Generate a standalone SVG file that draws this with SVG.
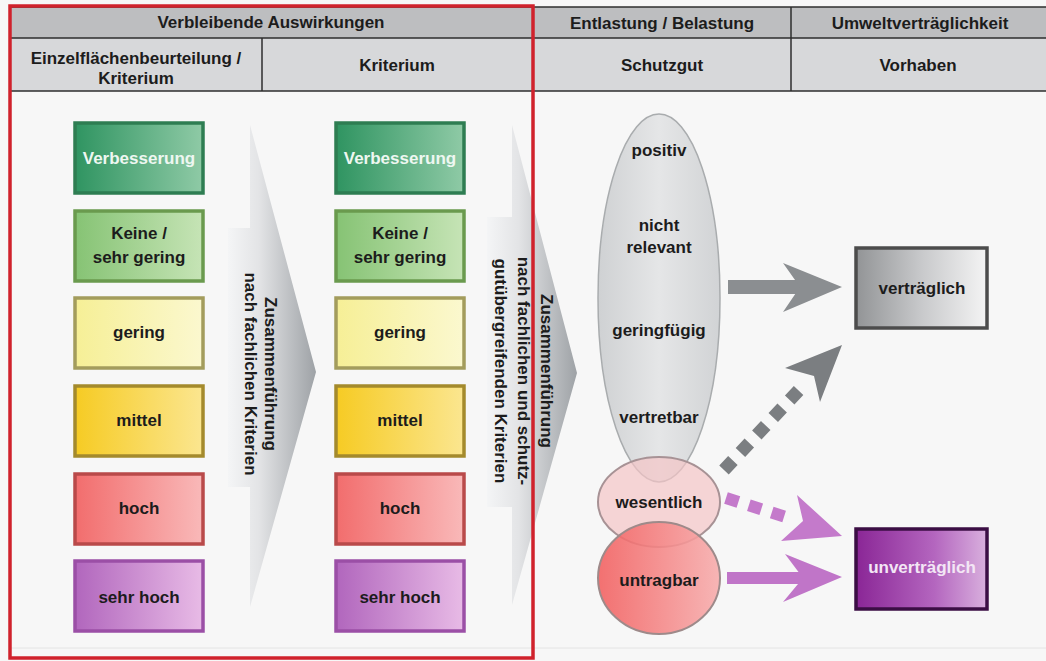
<svg xmlns="http://www.w3.org/2000/svg" width="1046" height="661" viewBox="0 0 1046 661">
<defs>
<style>
text{font-family:"Liberation Sans",Arial,sans-serif;font-weight:bold;font-size:17px;fill:#1c1c1c;text-anchor:middle}
.hl{stroke:#2e2e2e;stroke-width:1.5}
.box{stroke-width:3.5}
.w{fill:#eef7f1}
</style>
<linearGradient id="gV" x1="0" x2="1"><stop offset="0" stop-color="#2f9461"/><stop offset="1" stop-color="#8fcaa6"/></linearGradient>
<linearGradient id="gK" x1="0" x2="1"><stop offset="0" stop-color="#86c374"/><stop offset="1" stop-color="#c6e4b6"/></linearGradient>
<linearGradient id="gG" x1="0" x2="1"><stop offset="0" stop-color="#f6ef96"/><stop offset="1" stop-color="#fbf8cf"/></linearGradient>
<linearGradient id="gM" x1="0" x2="1"><stop offset="0" stop-color="#f6cb23"/><stop offset="1" stop-color="#fbe690"/></linearGradient>
<linearGradient id="gH" x1="0" x2="1"><stop offset="0" stop-color="#f26d6d"/><stop offset="1" stop-color="#f9b9b9"/></linearGradient>
<linearGradient id="gS" x1="0" x2="1"><stop offset="0" stop-color="#b166bd"/><stop offset="1" stop-color="#e8bbe6"/></linearGradient>
<linearGradient id="gA" x1="0" x2="1"><stop offset="0" stop-color="#f4f5f6"/><stop offset="0.35" stop-color="#e3e4e6"/><stop offset="1" stop-color="#9ea2a6"/></linearGradient>
<linearGradient id="gE" x1="0" x2="1"><stop offset="0" stop-color="#cfd1d3"/><stop offset="0.5" stop-color="#e5e6e7"/><stop offset="1" stop-color="#d1d3d5"/></linearGradient>
<linearGradient id="gU" x1="0" x2="1"><stop offset="0" stop-color="#f25e5e"/><stop offset="1" stop-color="#f7acac"/></linearGradient>
<linearGradient id="gVt" x1="0" x2="1"><stop offset="0" stop-color="#929496"/><stop offset="0.5" stop-color="#c8c9cb"/><stop offset="1" stop-color="#f4f4f4"/></linearGradient>
<linearGradient id="gUv" x1="0" x2="1"><stop offset="0" stop-color="#8a2696"/><stop offset="0.6" stop-color="#b466bf"/><stop offset="1" stop-color="#d9b0de"/></linearGradient>
</defs>
<rect width="1046" height="661" fill="#f7f7f7"/>
<g id="header">
<rect x="10" y="7" width="1036" height="31" fill="#bdbec0"/>
<rect x="10" y="38" width="1036" height="53" fill="#d7d8da"/>
<line class="hl" x1="10" y1="7" x2="1046" y2="7"/>
<line class="hl" x1="10" y1="38" x2="1046" y2="38"/>
<line class="hl" x1="10" y1="91" x2="1046" y2="91"/>
<line class="hl" x1="262" y1="38" x2="262" y2="91"/>
<line class="hl" x1="791" y1="7" x2="791" y2="91"/>
<text x="271" y="28">Verbleibende Auswirkungen</text>
<text x="662" y="29">Entlastung / Belastung</text>
<text x="920" y="29">Umweltverträglichkeit</text>
<text x="136" y="64">Einzelflächenbeurteilung /</text>
<text x="136" y="84">Kriterium</text>
<text x="397" y="71">Kriterium</text>
<text x="662" y="71">Schutzgut</text>
<text x="918" y="71">Vorhaben</text>
</g>
<line x1="10" y1="648" x2="1046" y2="648" stroke="#e4e4e4" stroke-width="1"/>
<g id="arrow-fachlich">
<polygon points="250,125 316,372 250,607 250,487 228,487 228,228 250,228" fill="url(#gA)"/>
<text transform="translate(265,374) rotate(90)">Zusammenführung</text>
<text transform="translate(245,374) rotate(90)">nach fachlichen Kriterien</text>
</g>
<g id="arrow-schutzgut">
<polygon points="512,125 577,373 512,605 512,507 487,507 487,217 512,217" fill="url(#gA)"/>
<text transform="translate(541,371) rotate(90)">Zusammenführung</text>
<text transform="translate(518,371) rotate(90)">nach fachlichen und schutz-</text>
<text transform="translate(495,371) rotate(90)">gutübergreifenden Kriterien</text>
</g>
<g id="col1">
<g id="c1-verbesserung"><rect class="box" x="75" y="123" width="128" height="70" fill="url(#gV)" stroke="#2e7d52"/><text class="w" x="139" y="164">Verbesserung</text></g>
<g id="c1-keine"><rect class="box" x="75" y="211" width="128" height="70" fill="url(#gK)" stroke="#6a9a4e"/><text x="139" y="239">Keine /</text><text x="139" y="263">sehr gering</text></g>
<g id="c1-gering"><rect class="box" x="75" y="298" width="128" height="70" fill="url(#gG)" stroke="#a39c5c"/><text x="139" y="338">gering</text></g>
<g id="c1-mittel"><rect class="box" x="75" y="386" width="128" height="70" fill="url(#gM)" stroke="#a48a2c"/><text x="139" y="426">mittel</text></g>
<g id="c1-hoch"><rect class="box" x="75" y="474" width="128" height="70" fill="url(#gH)" stroke="#b94a4a"/><text x="139" y="514">hoch</text></g>
<g id="c1-sehrhoch"><rect class="box" x="75" y="561" width="128" height="70" fill="url(#gS)" stroke="#9b4fa6"/><text x="139" y="603">sehr hoch</text></g>
</g>
<g id="col2">
<g id="c2-verbesserung"><rect class="box" x="336" y="123" width="128" height="70" fill="url(#gV)" stroke="#2e7d52"/><text class="w" x="400" y="164">Verbesserung</text></g>
<g id="c2-keine"><rect class="box" x="336" y="211" width="128" height="70" fill="url(#gK)" stroke="#6a9a4e"/><text x="400" y="239">Keine /</text><text x="400" y="263">sehr gering</text></g>
<g id="c2-gering"><rect class="box" x="336" y="298" width="128" height="70" fill="url(#gG)" stroke="#a39c5c"/><text x="400" y="338">gering</text></g>
<g id="c2-mittel"><rect class="box" x="336" y="386" width="128" height="70" fill="url(#gM)" stroke="#a48a2c"/><text x="400" y="426">mittel</text></g>
<g id="c2-hoch"><rect class="box" x="336" y="474" width="128" height="70" fill="url(#gH)" stroke="#b94a4a"/><text x="400" y="514">hoch</text></g>
<g id="c2-sehrhoch"><rect class="box" x="336" y="561" width="128" height="70" fill="url(#gS)" stroke="#9b4fa6"/><text x="400" y="603">sehr hoch</text></g>
</g>
<rect id="frame" x="10" y="6" width="523" height="652" fill="none" stroke="#d0222c" stroke-width="3.5"/>
<g id="schutzgut">
<g id="e-vertraeglich"><ellipse cx="659" cy="298" rx="61" ry="184" fill="url(#gE)" stroke="#a9acae" stroke-width="1.5"/>
<text x="659" y="156">positiv</text><text x="659" y="231">nicht</text><text x="659" y="253">relevant</text><text x="659" y="336">geringfügig</text><text x="659" y="423">vertretbar</text></g>
<g id="e-wesentlich"><ellipse cx="659" cy="502" rx="61" ry="45" fill="#f4c4c6" fill-opacity="0.7" stroke="#a79295" stroke-width="2"/><text x="659" y="508">wesentlich</text></g>
<g id="e-untragbar"><ellipse cx="659" cy="578" rx="61" ry="56" fill="url(#gU)" fill-opacity="0.88" stroke="#9e8a8a" stroke-width="2"/><text x="659" y="586">untragbar</text></g>
</g>
<g id="vorhaben">
<g id="n-vertraeglich"><rect x="856" y="248" width="131" height="80" fill="url(#gVt)" stroke="#4c4c4c" stroke-width="3.5"/><text x="922" y="294">verträglich</text></g>
<g id="n-unvertraeglich"><rect x="856" y="529" width="131" height="80" fill="url(#gUv)" stroke="#3b0e44" stroke-width="3.5"/><text x="922" y="573" style="fill:#f3e6f5">unverträglich</text></g>
</g>
<g id="connectors">
<rect x="728" y="280" width="74" height="14" fill="#8b8e91"/>
<polygon points="783,263 842,287 783,312 800,287" fill="#8b8e91"/>
<line x1="724" y1="470" x2="800" y2="389" stroke="#7b7e81" stroke-width="13" stroke-dasharray="13 11"/>
<polygon points="842,345 820,402 814,376 785,368" fill="#7b7e81"/>
<line x1="726" y1="498" x2="792" y2="519" stroke="#c47acb" stroke-width="12" stroke-dasharray="13 11"/>
<polygon points="797,495 842,536 781,541 803,521" fill="#c47acb"/>
<rect x="727" y="572" width="76" height="12" fill="#c075c8"/>
<polygon points="785,554 842,577 783,602 803,578" fill="#c075c8"/>
</g>
</svg>
